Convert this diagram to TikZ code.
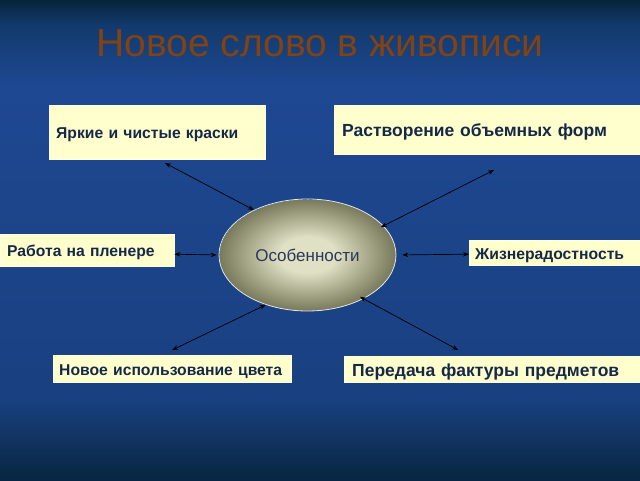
\documentclass[tikz,border=0pt]{standalone}
\usepackage{fontspec}
\setmainfont{Liberation Sans}
\usepackage{tikz}
\usetikzlibrary{shapes.geometric}
\usetikzlibrary{arrows.meta}
\definecolor{bgtop}{RGB}{8,36,58}
\definecolor{bgupper}{RGB}{18,58,108}
\definecolor{bgblue}{RGB}{30,72,146}
\definecolor{bglow}{RGB}{25,64,128}
\definecolor{bgdeep}{RGB}{8,38,64}
\definecolor{plate}{RGB}{255,255,206}
\definecolor{ink}{RGB}{22,40,72}
\definecolor{ovalink}{RGB}{40,56,88}
\definecolor{ovin}{RGB}{224,224,196}
\definecolor{ovout}{RGB}{120,120,90}
\definecolor{headline}{RGB}{130,66,18}
\pgfdeclareradialshading{ovalshade}{\pgfpoint{0bp}{0bp}}{color(0bp)=(ovin); color(8bp)=(ovin); color(25bp)=(ovout)}
\tikzset{plate/.style={fill=plate, draw=plate!70!white, line width=0.4pt, anchor=north west, inner ysep=0, text height=13.5pt, text depth=0pt, align=left, text=ink, font=\bfseries\fontsize{15.7}{18}\selectfont}}
\tikzset{big plate/.style={plate, font=\bfseries\fontsize{17.5}{20}\selectfont, text height=14.5pt}}
\tikzset{oval/.style={ellipse, shading=ovalshade, draw=white!80!gray, line width=0.8pt, inner sep=0, minimum width=177pt, minimum height=112pt, text=ovalink, font=\fontsize{17}{20}\selectfont}}
\tikzset{every edge/.style={draw, line width=0.7pt, black}}

\begin{document}
\begin{tikzpicture}[x=1pt, y=-1pt, >={Stealth[length=6pt, width=4.5pt]}]
  \useasboundingbox (0, 0) rectangle (640, 480);
  % background
  \shade[top color=bgtop, bottom color=bgupper] (0, 0) rectangle (640, 25);
  \shade[top color=bgupper, bottom color=bgblue] (0, 25) rectangle (640, 85);
  \shade[top color=bgblue, bottom color=bglow] (0, 85) rectangle (640, 400);
  \shade[top color=bglow, bottom color=bgdeep] (0, 400) rectangle (640, 480);

  \node[text=headline, font=\fontsize{39}{44}\selectfont] at (320, 43) (title) {Новое слово в живописи};

  \node[oval] at (307.5, 255) (osob) {Особенности};

  \node[plate, inner xsep=7pt, text width=202pt, minimum height=54pt] at (49, 105) (kraski) {Яркие и чистые краски};
  \node[big plate, inner xsep=8pt, text width=290pt, minimum height=49pt] at (334, 105) (formy) {Растворение объемных форм};
  \node[plate, inner xsep=7pt, text width=160pt, minimum height=32pt] at (0, 234) (plener) {Работа на пленере};
  \node[plate, inner xsep=6pt, text width=159pt, minimum height=25pt] at (469, 240) (radost) {Жизнерадостность};
  \node[plate, inner xsep=6pt, text width=226pt, minimum height=27pt] at (53, 355) (cvet) {Новое использование цвета};
  \node[big plate, inner xsep=8pt, text width=280pt, minimum height=26pt] at (344, 356) (faktura) {Передача фактуры предметов};

  \coordinate (kraskiEnd) at (165, 163);
  \coordinate (formyEnd) at (494, 170);

    \draw (kraskiEnd) edge[<->] (osob.140);
    \draw (formyEnd) edge[<->, shorten >=-3pt] (osob.21);
    \draw ([yshift=-4pt]plener.east) edge[<->, shorten >=2pt] (osob.west);
    \draw (osob.east) edge[<->, shorten <=6pt] ([yshift=-1.5pt]radost.west);
    \draw (osob.230) edge[<->] ([yshift=5pt]cvet.north);
    \draw (osob.322) edge[<->, shorten <=-4pt] ([xshift=-34pt, yshift=6pt]faktura.north);
  \end{tikzpicture}
\end{document}
